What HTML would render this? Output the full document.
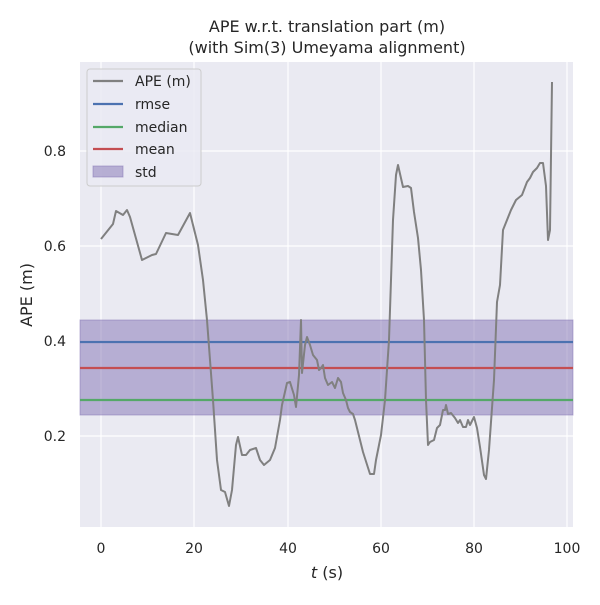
<!DOCTYPE html><html><head><style>body{margin:0;background:#fff}</style></head><body>
<svg width="600" height="600" xmlns="http://www.w3.org/2000/svg" font-family="DejaVu Sans, Liberation Sans, sans-serif">
<rect width="600" height="600" fill="#fff"/>
<rect x="80" y="62" width="493" height="465" fill="#eaeaf2"/>
<g stroke="#fff" stroke-width="1.2">
<line x1="101" y1="62" x2="101" y2="527"/><line x1="194" y1="62" x2="194" y2="527"/><line x1="288" y1="62" x2="288" y2="527"/><line x1="381" y1="62" x2="381" y2="527"/><line x1="474" y1="62" x2="474" y2="527"/><line x1="567" y1="62" x2="567" y2="527"/>
<line x1="80" y1="151" x2="573" y2="151"/><line x1="80" y1="246" x2="573" y2="246"/><line x1="80" y1="341" x2="573" y2="341"/><line x1="80" y1="436" x2="573" y2="436"/>
</g>
<rect x="80" y="320" width="493" height="95" fill="#8172b3" fill-opacity="0.5" stroke="#8172b3" stroke-opacity="0.5"/>
<line x1="80" y1="342" x2="573" y2="342" stroke="#4c72b0" stroke-width="2.2"/>
<line x1="80" y1="368" x2="573" y2="368" stroke="#c44e52" stroke-width="2.2"/>
<line x1="80" y1="400" x2="573" y2="400" stroke="#55a868" stroke-width="2.2"/>
<polyline fill="none" stroke="#808080" stroke-width="2" stroke-linejoin="round" points="101,239 113,224 116,211 123,215 127,210 130,217 142,260 152,255 156,254 166,233 178,235 190,213 198,245 203,280 207,320 213,400 217,460 221,490 225,492 229,506 232,490 236,445 238,437 242,455 246,455 250,450 256,448 260,460 264,465 270,460 275,448 280,420 282,405 287,383 290,382 294,395 296,407 299,375 301,320 302,373 305,345 307,337 310,345 313,355 317,360 319,370 321,368 323,365 325,378 328,385 332,382 335,388 338,378 341,382 343,393 346,400 348,408 350,412 353,414 355,420 360,440 363,452 370,474 374,474 376,460 381,435 385,400 389,340 393,220 396,175 398,165 403,187 408,186 411,188 414,212 418,238 421,270 424,320 426,400 428,445 430,442 434,440 437,428 440,425 443,410 445,410 446,405 448,414 451,413 455,418 458,423 460,420 463,427 466,427 468,420 470,425 474,417 477,428 480,447 484,475 486,479 489,450 494,380 497,302 500,285 503,230 511,210 516,200 522,195 527,182 530,178 533,172 537,168 540,163 543,163 546,186 548,240 550,230 552,82"/>
<g font-size="14" fill="#262626" text-anchor="middle">
<text x="101" y="553">0</text><text x="194" y="553">20</text><text x="288" y="553">40</text><text x="381" y="553">60</text><text x="474" y="553">80</text><text x="567" y="553">100</text>
</g>
<g font-size="14" fill="#262626" text-anchor="end">
<text x="66" y="156">0.8</text><text x="66" y="251">0.6</text><text x="66" y="346">0.4</text><text x="66" y="441">0.2</text>
</g>
<text x="327" y="578" font-size="16" fill="#262626" text-anchor="middle"><tspan font-style="italic">t</tspan> (s)</text>
<text transform="translate(32,295) rotate(-90)" font-size="16" fill="#262626" text-anchor="middle">APE (m)</text>
<text x="327" y="32" font-size="16" fill="#262626" text-anchor="middle">APE w.r.t. translation part (m)</text>
<text x="327" y="53" font-size="16" fill="#262626" text-anchor="middle">(with Sim(3) Umeyama alignment)</text>
<rect x="87" y="69" width="114" height="117" rx="3" fill="#eaeaf2" fill-opacity="0.8" stroke="#ccc"/>
<g stroke-width="2.2">
<line x1="93" y1="81" x2="123" y2="81" stroke="#808080"/>
<line x1="93" y1="104" x2="123" y2="104" stroke="#4c72b0"/>
<line x1="93" y1="127" x2="123" y2="127" stroke="#55a868"/>
<line x1="93" y1="149" x2="123" y2="149" stroke="#c44e52"/>
</g>
<rect x="93" y="166" width="30" height="11" fill="#8172b3" fill-opacity="0.5" stroke="#8172b3" stroke-opacity="0.5"/>
<g font-size="14" fill="#262626">
<text x="135" y="86">APE (m)</text><text x="135" y="109">rmse</text><text x="135" y="132">median</text><text x="135" y="154">mean</text><text x="135" y="177">std</text>
</g>
</svg></body></html>
